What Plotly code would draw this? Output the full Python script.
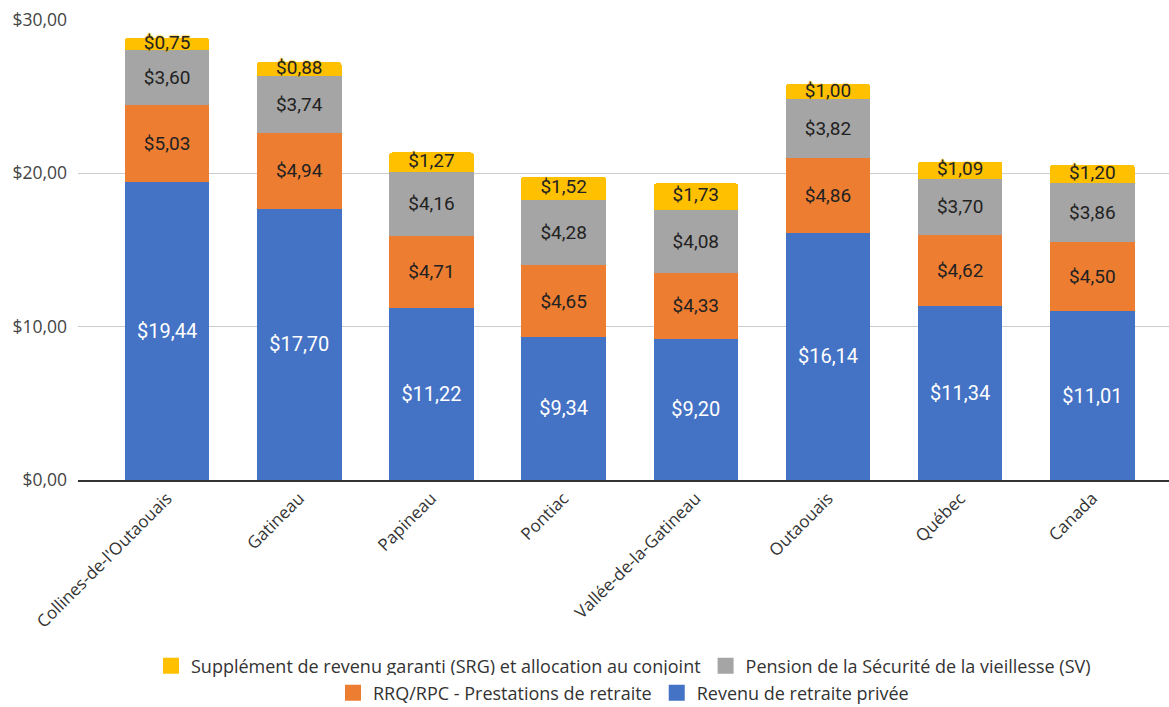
import plotly.graph_objects as go
import numpy as np

categories = ["Collines-de-l'Outaouais", "Gatineau", "Papineau", "Pontiac",
              "Vallée-de-la-Gatineau", "Outaouais", "Québec", "Canada"]
prive = [19.44, 17.70, 11.22, 9.34, 9.20, 16.14, 11.34, 11.01]
rrq = [5.03, 4.94, 4.71, 4.65, 4.33, 4.86, 4.62, 4.50]
sv = [3.60, 3.74, 4.16, 4.28, 4.08, 3.82, 3.70, 3.86]
srg = [0.75, 0.88, 1.27, 1.52, 1.73, 1.00, 1.09, 1.20]

names = ["Revenu de retraite privée", "RRQ/RPC - Prestations de retraite",
         "Pension de la Sécurité de la vieillesse (SV)",
         "Supplément de revenu garanti (SRG) et allocation au conjoint"]
colors = ["#4472C4", "#ED7D31", "#A5A5A5", "#FFC000"]
tick_vals = [0, 10, 20, 30]
tick_text = ["$0,00", "$10,00", "$20,00", "$30,00"]


def fmt(v):
    return "$" + f"{v:.2f}".replace(".", ",")


series = [prive, rrq, sv, srg]
legends = ["legend2", "legend2", "legend", "legend"]
fig = go.Figure()
for i, (vals, name, col) in enumerate(zip(series, names, colors)):
    is_top = i == 3
    fig.add_trace(go.Bar(
        x=categories, y=vals, name=name, marker_color=col,
        marker_line_width=0,
        text=None if is_top else [fmt(v) for v in vals],
        textposition="none" if is_top else "inside",
        insidetextanchor="middle",
        textangle=0,
        textfont=dict(family="Roboto", size=20 if i == 0 else 19,
                      color="white" if i == 0 else "#222222"),
        width=0.64, showlegend=False, hoverinfo="skip",
    ))

base_top = np.array(prive) + np.array(rrq) + np.array(sv)
fig.add_trace(go.Scatter(
    x=categories, y=base_top + np.array(srg) / 2, mode="text",
    text=[fmt(v) for v in srg], showlegend=False, hoverinfo="skip",
    textfont=dict(family="Roboto", size=19, color="#222222",
                  shadow="0px 0px 2px #FFC000, 0px 0px 2px #FFC000, 0px 0px 1px #FFC000"),
))

# legend-only entries with larger square swatches
for i, (name, col) in enumerate(zip(names, colors)):
    fig.add_trace(go.Scatter(
        x=[None], y=[None], mode="markers", name=name,
        marker=dict(symbol="square", size=18, color=col),
        legend=legends[i], hoverinfo="skip",
    ))

legend_font = dict(family="Open Sans", size=18, color="#333333")
fig.update_layout(
    barmode="stack",
    barcornerradius=3,
    width=1169, height=707,
    margin=dict(l=78, r=0, t=20, b=227),
    plot_bgcolor="white", paper_bgcolor="white",
    font=dict(family="Open Sans", size=17, color="#444444"),
    xaxis=dict(range=[-0.674, 7.58], tickangle=-45, showline=True,
               linecolor="#333333", linewidth=1.5, ticks="", automargin=False,
               tickfont=dict(family="Open Sans", size=17, color="#333333")),
    yaxis=dict(range=[0, 30], tickvals=tick_vals, ticktext=tick_text,
               showgrid=True, gridcolor="#CCCCCC", gridwidth=1,
               zeroline=False, ticks="", ticklabelstandoff=10, automargin=False,
               tickfont=dict(family="Open Sans", size=17.5, color="#444444")),
    legend=dict(orientation="h", x=0.5, xanchor="center",
                yref="container", y=(707 - 666) / 707, yanchor="middle",
                traceorder="reversed", font=legend_font, itemwidth=30),
    legend2=dict(orientation="h", x=0.5, xanchor="center",
                 yref="container", y=(707 - 693) / 707, yanchor="middle",
                 traceorder="reversed", font=legend_font, itemwidth=30),
    showlegend=True,
)

fig.write_html("out.html")
